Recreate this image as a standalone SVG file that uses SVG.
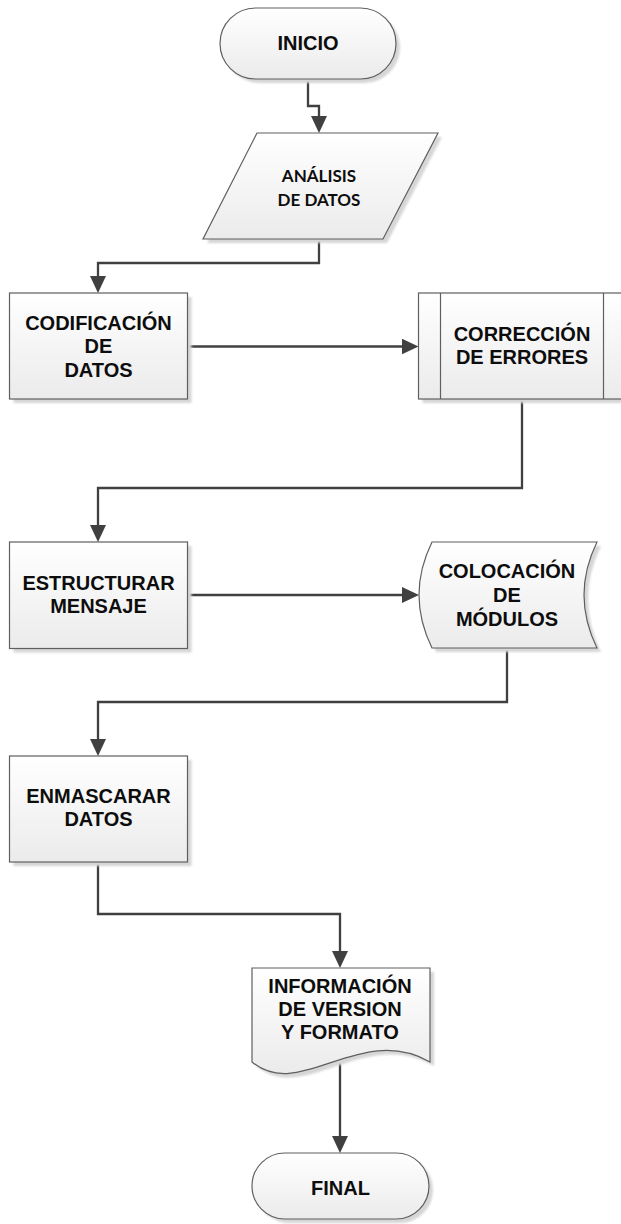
<svg xmlns="http://www.w3.org/2000/svg" width="621" height="1224" viewBox="0 0 621 1224">
  <defs>
    <linearGradient id="fillGrad" x1="0" y1="0" x2="0" y2="1">
      <stop offset="0" stop-color="#ffffff"/>
      <stop offset="1" stop-color="#ebebeb"/>
    </linearGradient>
    <filter id="soft" x="-10%" y="-10%" width="120%" height="120%">
      <feGaussianBlur stdDeviation="0.8"/>
    </filter>
    <marker id="arrow" markerUnits="userSpaceOnUse" markerWidth="17" markerHeight="16" refX="11" refY="8" orient="auto">
      <path d="M0,0 L17,8 L0,16 z" fill="#404040"/>
    </marker>
    <style>
      .shape { fill: url(#fillGrad); stroke: #5f5f5f; stroke-width: 1.2; }
      .shadow { fill: #d6d6d6; stroke: none; filter: url(#soft); }
      .inner { fill: none; stroke: #5f5f5f; stroke-width: 1.2; }
      .t { font-family: "Liberation Sans", Arial, sans-serif; font-weight: bold; font-size: 20px; text-anchor: middle; fill: #0d0d0d; }
      .tc { font-family: Lato, "Liberation Sans", sans-serif; font-weight: bold; font-size: 17px; text-anchor: middle; fill: #0d0d0d; }
      .conn { fill: none; stroke: #404040; stroke-width: 2.3; stroke-linejoin: miter; }
      .conn path { marker-end: url(#arrow); }
    </style>
  </defs>

  <!-- Connectors -->
  <g id="connectors" class="conn">
    <path d="M308,79 V106 H319 V127"/>
    <path d="M319,239 V263 H98 V287"/>
    <path d="M187.5,346.5 H412.5"/>
    <path d="M522,399 V488 H98 V536"/>
    <path d="M187.5,595 H413"/>
    <path d="M507,648 V702 H98 V750"/>
    <path d="M98,862 V914 H340 V962"/>
    <path d="M340,1063 V1147"/>
  </g>

  <!-- Start terminator -->
  <g id="inicio">
    <rect class="shadow" x="224" y="12" width="176" height="71" rx="35.5"/>
    <rect class="shape" x="220" y="8" width="176" height="71" rx="35.5"/>
    <text class="t" x="308" y="50">INICIO</text>
  </g>

  <!-- Input/output: data analysis -->
  <g id="analisis">
    <path class="shadow" d="M261,137 H442 L387,243 H207 Z"/>
    <path class="shape" d="M257,133 H438 L383,239 H203 Z"/>
    <text class="tc" x="319" y="181.5">ANÁLISIS</text>
    <text class="tc" x="319" y="206">DE DATOS</text>
  </g>

  <!-- Process: data coding -->
  <g id="codificacion">
    <rect class="shadow" x="13.5" y="297" width="178" height="106"/>
    <rect class="shape" x="9.5" y="293" width="178" height="106"/>
    <text class="t" x="98.5" y="329.5">CODIFICACIÓN</text>
    <text class="t" x="98.5" y="353">DE</text>
    <text class="t" x="98.5" y="377">DATOS</text>
  </g>

  <!-- Predefined process: error correction -->
  <g id="correccion">
    <rect class="shadow" x="422.5" y="297" width="206" height="106"/>
    <rect class="shape" x="418.5" y="293" width="206" height="106"/>
    <line class="inner" x1="440.5" y1="293" x2="440.5" y2="399"/>
    <line class="inner" x1="603.5" y1="293" x2="603.5" y2="399"/>
    <text class="t" x="522" y="341">CORRECCIÓN</text>
    <text class="t" x="522" y="363.5">DE ERRORES</text>
  </g>

  <!-- Process: message structuring -->
  <g id="estructurar">
    <rect class="shadow" x="13.5" y="546" width="178" height="106.5"/>
    <rect class="shape" x="9.5" y="542" width="178" height="106.5"/>
    <text class="t" x="98.5" y="589.5">ESTRUCTURAR</text>
    <text class="t" x="98.5" y="613">MENSAJE</text>
  </g>

  <!-- Stored data: module placement -->
  <g id="colocacion">
    <path class="shadow" d="M436,546 H601 Q575,599 601,652 H436 Q410,599 436,546 Z"/>
    <path class="shape" d="M432,542 H597 Q571,595 597,648 H432 Q406,595 432,542 Z"/>
    <text class="t" x="507" y="578">COLOCACIÓN</text>
    <text class="t" x="507" y="602">DE</text>
    <text class="t" x="507" y="625.5">MÓDULOS</text>
  </g>

  <!-- Process: data masking -->
  <g id="enmascarar">
    <rect class="shadow" x="13.5" y="760" width="178" height="106"/>
    <rect class="shape" x="9.5" y="756" width="178" height="106"/>
    <text class="t" x="98.5" y="803">ENMASCARAR</text>
    <text class="t" x="98.5" y="826">DATOS</text>
  </g>

  <!-- Document: version and format information -->
  <g id="informacion">
    <path class="shadow" d="M256,972 H434 V1066 C364,1026 304,1106 256,1066 Z"/>
    <path class="shape" d="M252,968 H430 V1062 C360,1022 300,1102 252,1062 Z"/>
    <text class="t" x="340" y="992.5">INFORMACIÓN</text>
    <text class="t" x="340" y="1015.5">DE VERSION</text>
    <text class="t" x="340" y="1038.5">Y FORMATO</text>
  </g>

  <!-- End terminator -->
  <g id="final">
    <rect class="shadow" x="256" y="1157" width="177" height="66" rx="33"/>
    <rect class="shape" x="252" y="1153" width="177" height="66" rx="33"/>
    <text class="t" x="340.5" y="1194.5">FINAL</text>
  </g>
</svg>
